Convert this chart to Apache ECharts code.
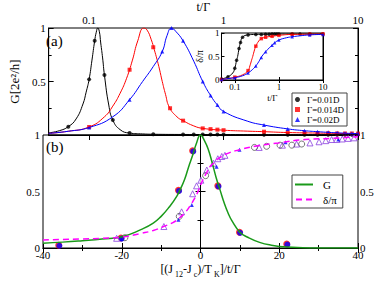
<!DOCTYPE html>
<html><head><meta charset="utf-8">
<script src="https://cdn.jsdelivr.net/npm/echarts@6/dist/echarts.min.js"></script>
<style>html,body{margin:0;padding:0;background:#fff}#c{width:382px;height:281px}</style>
</head><body><div id="c"></div>
<script>
// ---------- Panel (a): G vs t/Γ (log axis) ----------
const blackCurveT = [0.05,0.06,0.07,0.08,0.09,0.095,0.1,0.105,0.11,0.113,0.116,0.119,0.122,0.126,0.13,0.14,0.15,0.17,0.2,0.25,0.3,0.5,1,2,5,10];
const blackCurveG = [0.02,0.04,0.078,0.15,0.29,0.4,0.52,0.7,0.88,0.96,1.0,0.97,0.86,0.72,0.56,0.28,0.14,0.05,0.018,0.01,0.007,0.005,0.004,0.003,0.003,0.003];
const redCurveT = [0.05,0.07,0.1,0.13,0.15,0.17,0.19,0.21,0.23,0.255,0.27,0.29,0.305,0.33,0.35,0.37,0.395,0.45,0.5,0.6,0.7,1,1.5,2,3,5,7,10];
const redCurveG = [0.015,0.035,0.075,0.17,0.27,0.39,0.53,0.7,0.88,1.0,0.98,0.89,0.8,0.64,0.5,0.38,0.26,0.17,0.134,0.085,0.062,0.045,0.036,0.031,0.023,0.018,0.015,0.013];
const blueCurveT = [0.05,0.07,0.1,0.15,0.2,0.25,0.3,0.35,0.38,0.41,0.44,0.5,0.6,0.7,0.8,0.9,1,1.5,2,3,4,5,7,10];
const blueCurveG = [0.015,0.035,0.07,0.17,0.33,0.5,0.64,0.78,0.93,1.0,0.97,0.88,0.69,0.5,0.37,0.28,0.22,0.13,0.093,0.057,0.04,0.031,0.02,0.013];

const blackMarkT = [0.07,0.1,0.11,0.13,0.15,0.2,0.3,0.5,0.6,0.7,0.8,0.9,1,2,3,4,5,6,7,8,9,10];
const blackMarkG = [0.078,0.52,0.88,0.56,0.14,0.018,0.007,0.005,0.005,0.004,0.004,0.004,0.004,0.003,0.003,0.003,0.003,0.003,0.003,0.003,0.003,0.003];
const redMarkT = [0.1,0.2,0.3,0.4,0.5,0.7,0.8,0.9,1,2,3,4,5,6,7,8,9,10];
const redMarkG = [0.075,0.61,0.82,0.25,0.134,0.062,0.055,0.05,0.045,0.031,0.023,0.02,0.018,0.017,0.015,0.014,0.014,0.013];
const blueMarkT = [0.1,0.2,0.35,0.41,0.5,0.7,0.8,0.9,1,2,3,4,5,6,7,8,9,10];
const blueMarkG = [0.07,0.33,0.78,1.0,0.88,0.5,0.37,0.28,0.22,0.093,0.057,0.04,0.031,0.025,0.02,0.017,0.015,0.013];

// ---------- Inset: δ/π vs t/Γ ----------
const blackPhaseT = [0.05,0.07,0.09,0.1,0.11,0.116,0.125,0.135,0.15,0.2,0.3,0.5,1,2,5,10];
const blackPhase = [0.02,0.07,0.15,0.25,0.42,0.5,0.67,0.8,0.91,0.96,0.97,0.975,0.98,0.98,0.98,0.98];
const redPhaseT = [0.05,0.07,0.1,0.15,0.2,0.22,0.24,0.255,0.28,0.3,0.35,0.4,0.5,0.7,1,2,5,10];
const redPhase = [0.01,0.03,0.06,0.11,0.2,0.3,0.42,0.5,0.64,0.72,0.83,0.88,0.91,0.93,0.95,0.97,0.975,0.98];
const bluePhaseT = [0.05,0.07,0.1,0.15,0.2,0.25,0.3,0.35,0.41,0.5,0.6,0.7,0.8,1,1.5,2,3,5,10];
const bluePhase = [0.01,0.03,0.05,0.09,0.15,0.22,0.3,0.39,0.5,0.6,0.68,0.74,0.79,0.85,0.9,0.92,0.94,0.96,0.97];
const blackPhaseMarkT = [0.05,0.07,0.1,0.11,0.125,0.135,0.15,0.2,0.3,0.4,0.5,0.6,0.7,0.8,0.9,1,2,3,5,10];
const blackPhaseMark = [0.02,0.07,0.25,0.42,0.67,0.8,0.91,0.96,0.97,0.97,0.975,0.975,0.98,0.98,0.98,0.98,0.98,0.98,0.98,0.98];
const redPhaseMarkT = [0.05,0.1,0.2,0.3,0.4,0.5,0.7,1,2,5,10];
const redPhaseMark = [0.01,0.06,0.2,0.72,0.88,0.91,0.93,0.95,0.97,0.975,0.98];
const bluePhaseMarkT = [0.05,0.1,0.2,0.3,0.4,0.5,0.7,0.8,1,2,5,10];
const bluePhaseMark = [0.01,0.05,0.15,0.3,0.48,0.6,0.74,0.79,0.85,0.92,0.96,0.97];

// ---------- Panel (b): vs (J12-Jc)/T_K ----------
const gX = [-40,-35,-30,-25,-20,-15,-12,-10,-8,-6,-5,-4,-3,-2,-1,0,1,2,3,4,5,6,7,8,10,12,15,18,22,26,30,40];
const gY = [0.042,0.052,0.065,0.08,0.1,0.165,0.22,0.28,0.36,0.46,0.53,0.61,0.72,0.82,0.93,1.0,0.95,0.87,0.75,0.62,0.51,0.4,0.31,0.24,0.14,0.095,0.05,0.025,0.008,0.003,0.001,0];
const dX = [-40,-30,-25,-20,-15,-12,-9.4,-7,-5.2,-4,-2.7,-1.5,-0.5,0.3,1.6,2.4,3.3,4.5,7.1,10,13.8,19.8,26.5,33,40];
const dY = [0.071,0.08,0.086,0.097,0.13,0.155,0.19,0.225,0.27,0.31,0.37,0.44,0.51,0.58,0.67,0.72,0.75,0.79,0.84,0.87,0.9,0.93,0.96,0.97,0.985];
const gMarkX = [-36,-20.2,-5.6,-2.0,4.4,9.9,21.9];
const gMarkY = [0.025,0.088,0.51,0.86,0.55,0.14,0.035];
const triX = [-21.3,-9.3,-4.8,-2.0,-1.0,0.1,1.6,3.3,4.4,5.4,6.2,14.9,20.8,24.4,27.8,30.1,31.8,33.3,34.6,36,37.5,39];
const triY = [0.086,0.19,0.32,0.48,0.55,0.6,0.69,0.75,0.79,0.81,0.82,0.89,0.91,0.92,0.93,0.94,0.95,0.96,0.96,0.965,0.97,0.975];
const circX = [-19.2,-5.4,1.3,13.7,16.8,20.2,23.2,25.7];
const circY = [0.091,0.28,0.64,0.89,0.9,0.91,0.91,0.92];
const bTriX = [-20,-5.6,-2.2,4.1,9.9,21.6,35];
const bTriY = [0.08,0.25,0.38,0.72,0.87,0.935,0.96];

const topTicks = ['0.1','1','10'];
const zip = (a,b) => a.map((v,i)=>[v,b[i]]);
const SERIF = 'Liberation Serif';
const logFmt = v => { const s = String(Number(v.toPrecision(6))); return topTicks.includes(s) ? s : ''; };
const half = v => (Math.abs(v*2-Math.round(v*2))<1e-6 ? String(v) : '');
const line = '#000';
const baseAxis = {
  axisLine:{show:true,lineStyle:{color:line,width:1}},
  axisTick:{show:true,inside:true,length:5,lineStyle:{color:line}},
  splitLine:{show:false},
  axisLabel:{color:'#000',fontFamily:SERIF,fontSize:11}
};
const mk = o => Object.assign({}, JSON.parse(JSON.stringify(baseAxis)), o);
const SM = 0.5;

const chart = echarts.init(document.getElementById('c'), null, {renderer:'svg'});
chart.setOption({
  animation:false,
  backgroundColor:'#fff',
  title:[
    {text:'(a)',left:46,top:33,padding:0,textStyle:{fontFamily:SERIF,fontSize:15,fontWeight:'normal',color:'#000'}},
    {text:'(b)',left:46,top:139,padding:0,textStyle:{fontFamily:SERIF,fontSize:15,fontWeight:'normal',color:'#000'}}
  ],
  grid:[
    {left:43,top:28,width:315,height:107,show:true,borderColor:'#000',borderWidth:1},
    {left:43,top:135,width:315,height:113,show:true,borderColor:'#000',borderWidth:1},
    {left:221.5,top:33,width:101.5,height:47,show:true,borderColor:'#000',borderWidth:1,backgroundColor:'#fff'}
  ],
  xAxis:[
    mk({gridIndex:0,type:'log',logBase:10,min:0.05,max:10,position:'top',
        axisLabel:{color:'#000',fontFamily:SERIF,fontSize:11,margin:3,formatter:logFmt,showMinLabel:false},
        name:'t/Γ',nameLocation:'middle',nameGap:15,nameTextStyle:{fontFamily:SERIF,fontSize:12,color:'#000'}}),
    mk({gridIndex:1,type:'value',min:-40,max:40,interval:20,position:'bottom',
        minorTick:{show:true,splitNumber:2,length:3,lineStyle:{color:line}},
        axisLabel:{color:'#000',fontFamily:SERIF,fontSize:11,margin:1},
        name:'{n|[(J}{s| 12}{n|-J}{s| c}{n|)/T}{s| K}{n|]/t/Γ}',nameLocation:'middle',nameGap:15,
        nameTextStyle:{fontFamily:SERIF,fontSize:12,color:'#000',
          rich:{n:{fontFamily:SERIF,fontSize:12,color:'#000',verticalAlign:'top',lineHeight:14},
                s:{fontFamily:SERIF,fontSize:8,color:'#000',verticalAlign:'top',padding:[7,0,0,0],lineHeight:10}}}}),
    mk({gridIndex:1,type:'value',min:-40,max:40,interval:20,position:'top',
        minorTick:{show:true,splitNumber:2,length:3,lineStyle:{color:line}},
        axisLabel:{show:false}}),
    mk({gridIndex:2,type:'log',logBase:10,min:0.05,max:10,position:'bottom',
        axisTick:{show:true,inside:true,length:3,lineStyle:{color:line}},
        axisLabel:{color:'#000',fontFamily:SERIF,fontSize:9,margin:2,formatter:logFmt,showMinLabel:false},
        name:'t/Γ',nameLocation:'middle',nameGap:13,nameTextStyle:{fontFamily:SERIF,fontSize:9,color:'#000'}}),
    mk({gridIndex:2,type:'log',logBase:10,min:0.05,max:10,position:'top',
        axisTick:{show:true,inside:true,length:3,lineStyle:{color:line}},
        axisLabel:{show:false}})
  ],
  yAxis:[
    mk({gridIndex:0,type:'value',min:0,max:1,interval:0.5,position:'left',
        minorTick:{show:true,splitNumber:2,length:3,lineStyle:{color:line}},
        axisLabel:{color:'#000',fontFamily:SERIF,fontSize:11,margin:3,formatter:v=>v===0?'':String(v)},
        name:'G[2e²/h]',nameLocation:'middle',nameGap:25,nameRotate:90,nameTextStyle:{fontFamily:SERIF,fontSize:13,color:'#000'}}),
    mk({gridIndex:0,type:'value',min:0,max:1,interval:0.5,position:'right',
        minorTick:{show:true,splitNumber:2,length:3,lineStyle:{color:line}},axisLabel:{show:false}}),
    mk({gridIndex:1,type:'value',min:0,max:1,interval:0.5,position:'left',
        minorTick:{show:true,splitNumber:2,length:3,lineStyle:{color:line}},
        axisLabel:{color:'#000',fontFamily:SERIF,fontSize:11,margin:3,formatter:half}}),
    mk({gridIndex:1,type:'value',min:0,max:1,interval:0.5,position:'right',
        minorTick:{show:true,splitNumber:2,length:3,lineStyle:{color:line}},
        axisLabel:{color:'#000',fontFamily:SERIF,fontSize:11,margin:2,formatter:half}}),
    mk({gridIndex:2,type:'value',min:0,max:1,interval:0.5,position:'left',
        axisTick:{show:true,inside:true,length:3,lineStyle:{color:line}},
        axisLabel:{color:'#000',fontFamily:SERIF,fontSize:9,margin:2},
        name:'δ/π',nameLocation:'middle',nameGap:17,nameRotate:90,nameTextStyle:{fontFamily:SERIF,fontSize:10,color:'#000'}}),
    mk({gridIndex:2,type:'value',min:0,max:1,interval:0.5,position:'right',
        axisTick:{show:true,inside:true,length:3,lineStyle:{color:line}},axisLabel:{show:false}})
  ],
  legend:[
    {left:292,top:93,orient:'vertical',itemGap:1,itemWidth:5,itemHeight:5,padding:[2,3,2,3],
     borderColor:'#444',borderWidth:1,backgroundColor:'#fff',
     textStyle:{fontFamily:SERIF,fontSize:9,color:'#000',padding:[0,0,0,2]},
     data:[{name:'Γ=0.01D',icon:'circle'},{name:'Γ=0.014D',icon:'rect'},{name:'Γ=0.02D',icon:'triangle'}]},
    {left:292,top:175,orient:'vertical',itemGap:4,itemWidth:18,itemHeight:2,padding:[4,6,3,3],
     borderColor:'#444',borderWidth:1,backgroundColor:'#fff',
     textStyle:{fontFamily:SERIF,fontSize:11,color:'#000',padding:[0,0,0,5]},
     data:[{name:'G',icon:'path://M0,0H18V2H0Z'},{name:'δ/π',icon:'path://M0,0H6V2H0Z M10,0H16V2H10Z'}]}
  ],
  series:[
    // panel (a) curves
    {type:'line',xAxisIndex:0,yAxisIndex:0,data:zip(blackCurveT,blackCurveG),smooth:SM,symbol:'none',lineStyle:{color:'#000',width:1},silent:true},
    {type:'line',xAxisIndex:0,yAxisIndex:0,data:zip(redCurveT,redCurveG),smooth:SM,symbol:'none',lineStyle:{color:'#ff0000',width:1},silent:true},
    {type:'line',xAxisIndex:0,yAxisIndex:0,data:zip(blueCurveT,blueCurveG),smooth:SM,symbol:'none',lineStyle:{color:'#0000ff',width:1},silent:true},
    {name:'Γ=0.01D',type:'scatter',xAxisIndex:0,yAxisIndex:0,data:zip(blackMarkT,blackMarkG),symbol:'circle',symbolSize:4,itemStyle:{color:'#000'}},
    {name:'Γ=0.014D',type:'scatter',xAxisIndex:0,yAxisIndex:0,data:zip(redMarkT,redMarkG),symbol:'rect',symbolSize:4,itemStyle:{color:'#ff0000'}},
    {name:'Γ=0.02D',type:'scatter',xAxisIndex:0,yAxisIndex:0,data:zip(blueMarkT,blueMarkG),symbol:'triangle',symbolSize:4,itemStyle:{color:'#0000ff'}},
    // inset
    {type:'line',xAxisIndex:3,yAxisIndex:4,data:zip(blackPhaseT,blackPhase),smooth:SM,symbol:'none',lineStyle:{color:'#000',width:1}},
    {type:'line',xAxisIndex:3,yAxisIndex:4,data:zip(redPhaseT,redPhase),smooth:SM,symbol:'none',lineStyle:{color:'#ff0000',width:1}},
    {type:'line',xAxisIndex:3,yAxisIndex:4,data:zip(bluePhaseT,bluePhase),smooth:SM,symbol:'none',lineStyle:{color:'#0000ff',width:1}},
    {name:'inset-black',type:'scatter',xAxisIndex:3,yAxisIndex:4,data:zip(blackPhaseMarkT,blackPhaseMark),symbol:'circle',symbolSize:3.5,itemStyle:{color:'#000'}},
    {name:'inset-red',type:'scatter',xAxisIndex:3,yAxisIndex:4,data:zip(redPhaseMarkT,redPhaseMark),symbol:'rect',symbolSize:3.5,itemStyle:{color:'#ff0000'}},
    {name:'inset-blue',type:'scatter',xAxisIndex:3,yAxisIndex:4,data:zip(bluePhaseMarkT,bluePhaseMark),symbol:'triangle',symbolSize:3.5,itemStyle:{color:'#0000ff'}},
    // panel (b)
    {name:'G',type:'line',xAxisIndex:1,yAxisIndex:2,data:zip(gX,gY),smooth:SM,symbol:'none',lineStyle:{color:'#1a9a1a',width:1.5},itemStyle:{color:'#1a9a1a'}},
    {name:'δ/π',type:'line',xAxisIndex:1,yAxisIndex:2,data:zip(dX,dY),smooth:SM,symbol:'none',lineStyle:{color:'#ff00ff',width:1.5,type:[6,4]},itemStyle:{color:'#ff00ff'}},
    {name:'G-red',type:'scatter',xAxisIndex:1,yAxisIndex:2,data:zip(gMarkX,gMarkY),symbol:'circle',symbolSize:7,itemStyle:{color:'#ff0000'}},
    {name:'G-blue',type:'scatter',xAxisIndex:1,yAxisIndex:2,data:zip(gMarkX,gMarkY),symbol:'circle',symbolSize:6,symbolOffset:[0.6,0.6],itemStyle:{color:'#0000ff'}},
    {name:'d-tri',type:'scatter',xAxisIndex:1,yAxisIndex:2,data:zip(triX,triY),symbol:'triangle',symbolSize:6,itemStyle:{color:'#fff',borderColor:'#8a3fe0',borderWidth:1}},
    {name:'d-circ',type:'scatter',xAxisIndex:1,yAxisIndex:2,data:zip(circX,circY),symbol:'circle',symbolSize:6,itemStyle:{color:'rgba(255,255,255,0)',borderColor:'#555',borderWidth:1}},
    {name:'d-btri',type:'scatter',xAxisIndex:1,yAxisIndex:2,data:zip(bTriX,bTriY),symbol:'triangle',symbolSize:4,itemStyle:{color:'#0000ff'}}
  ]
});
</script></body></html>
